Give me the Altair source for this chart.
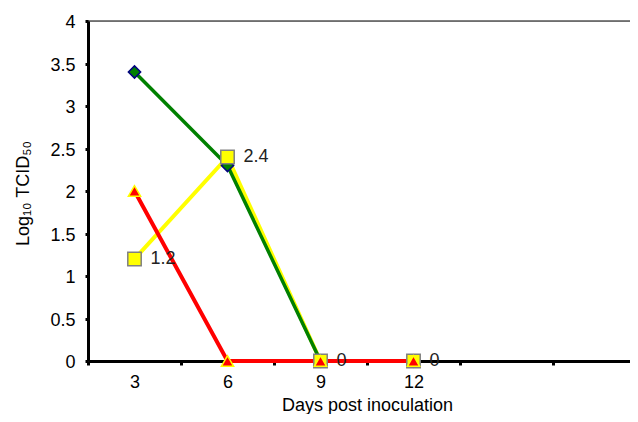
import altair as alt
import pandas as pd

days = [3, 6, 9, 12]
green_vals = [3.4, 2.3, 0.0, 0.0]
yellow_vals = [1.2, 2.4, 0.0, 0.0]
red_vals = [2.0, 0.0, 0.0, 0.0]
yellow_labels = ["1.2", "2.4", "0", "0"]

x_ticks = [1.5, 3, 4.5, 6, 7.5, 9, 10.5, 12, 13.5, 15, 16.5]
y_ticks = [0, 0.5, 1, 1.5, 2, 2.5, 3, 3.5, 4]

df_g = pd.DataFrame({"day": days, "v": green_vals})
df_y = pd.DataFrame({"day": days, "v": yellow_vals, "lab": yellow_labels})
df_r = pd.DataFrame({"day": days, "v": red_vals})

FONT = "Liberation Sans"
FS = 18
W, H = 542, 340

xs = alt.Scale(domain=[1.5, 1.5 + W / 31], nice=False, zero=False)
ys = alt.Scale(domain=[0, 4], nice=False)

x_axis = alt.Axis(
    values=x_ticks,
    labelExpr="(datum.value % 3 == 0 && datum.value <= 12) ? datum.label : ''",
    tickOpacity={"condition": {"test": "datum.value % 3 == 0", "value": 0}, "value": 1},
    tickSize=4, tickWidth=3, tickColor="black",
    domainWidth=3, domainColor="black",
    labelFont=FONT, labelFontSize=FS, labelColor="black", labelPadding=8,
    labelOverlap=False, grid=False,
    title="Days post inoculation", titleFont=FONT, titleFontSize=FS,
    titleFontWeight="normal", titleColor="black",
    titleX=279, titleY=49, titleAlign="center", titleBaseline="alphabetic",
)
y_axis = alt.Axis(
    values=y_ticks, format="~g",
    tickSize=3, tickWidth=3, tickColor="black",
    domainWidth=3, domainColor="black",
    labelFont=FONT, labelFontSize=FS, labelColor="black", labelPadding=10,
    labelOffset=1.5, grid=False,
    title="Log₁₀ TCID₅₀", titleFont=FONT, titleFontSize=FS,
    titleFontWeight="normal", titleColor="black",
    titleAngle=270, titleX=-65, titleY=172, titleAlign="center", titleBaseline="middle",
)

def enc():
    return dict(
        x=alt.X("day:Q", scale=xs, axis=x_axis),
        y=alt.Y("v:Q", scale=ys, axis=y_axis),
    )

top_border = alt.Chart(pd.DataFrame({"a": [0]})).mark_rule(color="black", strokeWidth=1).encode(
    x=alt.value(0), x2=alt.value(W), y=alt.value(0)
)

line_y = alt.Chart(df_y).mark_line(color="#FFFF00", strokeWidth=4).encode(**enc())
line_g = alt.Chart(df_g).mark_line(color="#008000", strokeWidth=3.5).encode(**enc())
line_r = alt.Chart(df_r).mark_line(color="#FF0000", strokeWidth=4).encode(**enc())

pt_g = alt.Chart(df_g).mark_point(shape="diamond", filled=True, fill="#008000",
                                  stroke="#000080", strokeWidth=1.5, size=150, opacity=1).encode(**enc())
pt_y = alt.Chart(df_y).mark_point(shape="square", filled=True, fill="#FFFF00",
                                  stroke="#808080", strokeWidth=1.5, size=180, opacity=1).encode(**enc())
pt_r = alt.Chart(df_r).mark_point(shape="triangle-up", filled=True, fill="#FF0000",
                                  stroke="#FFFF00", strokeWidth=1.5, size=150, opacity=1).encode(**enc())

txt = alt.Chart(df_y).mark_text(align="left", baseline="middle", dx=16, font=FONT,
                                fontSize=FS, color="#222222").encode(**enc(), text="lab:N")

chart = alt.layer(
    top_border, line_y, line_g, line_r, pt_g, pt_y, pt_r, txt
).properties(
    width=W, height=H,
    autosize=alt.AutoSizeParams(type="none"),
    padding={"left": 80, "top": 13, "right": 0, "bottom": 53},
).configure_view(strokeWidth=0).configure(background="white")

chart.save("out.html", embed_options={"renderer": "svg", "actions": False})
